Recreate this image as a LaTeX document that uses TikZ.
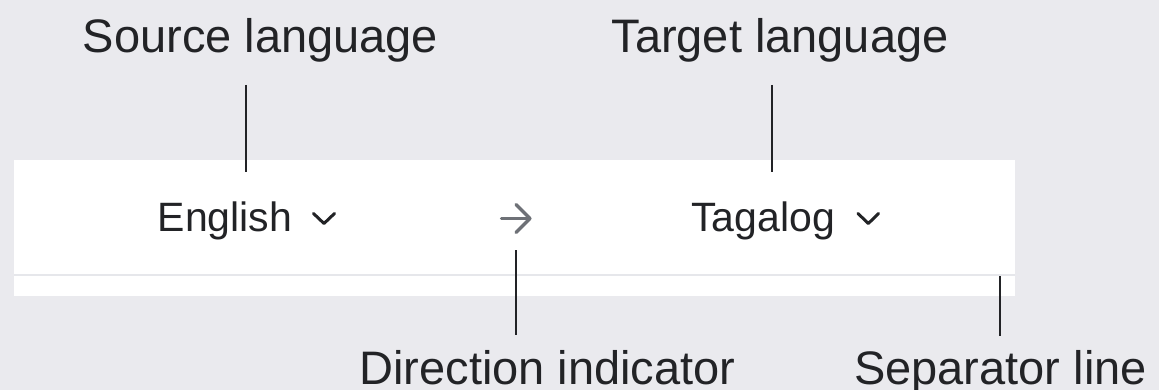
\documentclass[tikz,border=0pt]{standalone}
\usepackage{fontspec}
\setmainfont{Liberation Sans}
\usetikzlibrary{calc}
\definecolor{pagebg}{HTML}{EAEAEE}
\definecolor{ink}{HTML}{222326}
\definecolor{rulegray}{HTML}{E6E7EB}
\definecolor{arrowgray}{HTML}{6E7177}
\tikzset{
  callout/.style={font=\fontsize{47}{56}\selectfont, text=ink, inner sep=0pt, anchor=base},
  langname/.style={font=\fontsize{41}{49}\selectfont, text=ink, inner sep=0pt, anchor=base},
  leader/.style={draw=ink, line width=2.6pt},
  chevron/.style={draw=ink, line width=3pt, line cap=round, line join=round},
  dirarrow/.style={draw=arrowgray, line width=3.2pt, line cap=round, line join=round}
}
\begin{document}
\begin{tikzpicture}[x=1pt, y=-1pt]
  % canvas
  \fill[pagebg] (0,0) rectangle (1159,390);
  \useasboundingbox (0,0) rectangle (1159,390);

  % language bar panel with its separator rule
  \fill[white] (14,160) rectangle (1015,296);
  \draw[rulegray, line width=2.5pt] (14,275) -- (1015,275);

  % language selectors
  \node[langname] (english) at (225,231.7) {English};
  \draw[chevron] (313.5,213.5) -- (324,223.5) -- (334.5,213.5);
  \node[langname] (tagalog) at (763,231.7) {Tagalog};
  \draw[chevron] (858,213.5) -- (868.3,223.5) -- (878.6,213.5);

  % direction arrow
  \coordinate (arrL) at (501.5,218.5);
  \coordinate (arrR) at (530,218.5);
  \draw[dirarrow] (arrL) -- (arrR);
  \draw[dirarrow] (516,204.5) -- (arrR) -- (516,232.5);

  % callout labels
  \node[callout] (srclbl) at (260.5,53) {Source language};
  \node[callout] (tgtlbl) at (780,53) {Target language};
  \node[callout] (dirlbl) at (547.5,384) {Direction indicator};
  \node[callout] (seplbl) at (1000.5,384) {Separator line};

  % leader end points on the panel
  \coordinate (srcTip) at (246,172);
  \coordinate (tgtTip) at (772,172);
  \coordinate (dirTip) at (516,250);
  \coordinate (sepTip) at (1000,276);

  % leaders
  \draw[leader] ($(srclbl.south -| srcTip)+(0,22)$) -- (srcTip);
  \draw[leader] ($(tgtlbl.south -| tgtTip)+(0,22)$) -- (tgtTip);
  \draw[leader] (dirTip) -- ($(dirlbl.north -| dirTip)+(0,-15)$);
  \draw[leader] (sepTip) -- ($(seplbl.north -| sepTip)+(0,-14)$);
\end{tikzpicture}
\end{document}
